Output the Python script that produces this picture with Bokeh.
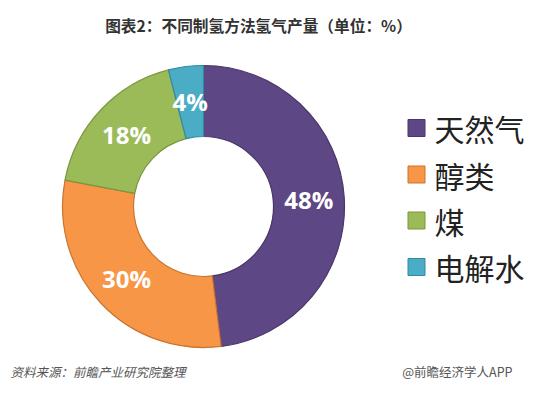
import math
from bokeh.plotting import figure
from bokeh.models import Range1d, ColumnDataSource
from bokeh.core.properties import value
from bokeh.embed import file_html
from bokeh.resources import INLINE

# data
categories = ["天然气", "醇类", "煤", "电解水"]
shares = [48, 30, 18, 4]
colors = ["#5E4785", "#F79646", "#9BBB59", "#4BACC6"]
edge_colors = ["#4A3668", "#C8752F", "#7A9640", "#2F8AA3"]
title_text = "图表2：不同制氢方法氢气产量（单位：%）"
source_text = "资料来源：前瞻产业研究院整理"
credit_text = "@前瞻经济学人APP"

W, H = 534, 382
p = figure(width=W, height=H, output_backend="svg", toolbar_location=None,
           x_range=Range1d(0, W), y_range=Range1d(0, H),
           min_border=0, outline_line_color=None)
p.axis.visible = False
p.grid.visible = False
p.background_fill_color = "white"
p.border_fill_color = "white"

def Y(y):  # reference y (top-down) -> data y
    return H - y

cx, cy = 203, Y(206)
r_out, r_in = 141, 70

total = sum(shares)
starts, ends, mids = [], [], []
cum = 0.0
for s in shares:
    f0 = cum / total
    cum += s
    f1 = cum / total
    starts.append(math.pi / 2 - f0 * 2 * math.pi)
    ends.append(math.pi / 2 - f1 * 2 * math.pi)
    mids.append(math.pi / 2 - (f0 + f1) / 2 * 2 * math.pi)

src = ColumnDataSource(dict(start=starts, end=ends, color=colors, edge=edge_colors))
p.annular_wedge(x=cx, y=cy, inner_radius=r_in, outer_radius=r_out,
                start_angle="start", end_angle="end", direction="clock",
                fill_color="color", line_color="edge", line_width=1.2, source=src)

r_mid = (r_in + r_out) / 2
lab = ColumnDataSource(dict(
    x=[cx + r_mid * math.cos(a) for a in mids],
    y=[cy + r_mid * math.sin(a) for a in mids],
    t=[f"{s}%" for s in shares]))
p.text(x="x", y="y", text="t", source=lab, text_color="white",
       text_font=value("Open Sans"), text_font_style="bold",
       text_font_size="24px", text_align="center", text_baseline="middle")

# legend
leg_y = [Y(127.5), Y(174), Y(220), Y(266.5)]
leg = ColumnDataSource(dict(x=[416] * 4, y=leg_y, color=colors, edge=edge_colors,
                            tx=[434] * 4, t=categories))
p.rect(x="x", y="y", width=17, height=17, fill_color="color", line_color="edge",
       line_width=1, source=leg)
p.text(x="tx", y="y", text="t", source=leg, text_color="#222222",
       text_font=value("Noto Sans CJK SC"), text_font_size="30px",
       text_baseline="middle", text_align="left")

# title and footer
p.text(x=[258], y=[Y(25)], text=[title_text], text_color="#333333",
       text_font=value("Noto Sans CJK SC"), text_font_style="bold",
       text_font_size="15.7px", text_align="center", text_baseline="middle")
p.text(x=[10], y=[Y(371)], text=[source_text], text_color="#555555",
       text_font=value("Noto Sans CJK SC"), text_font_style="italic",
       text_font_size="12.5px", text_align="left", text_baseline="middle")
p.text(x=[512], y=[Y(371)], text=[credit_text], text_color="#555555",
       text_font=value("Noto Sans CJK SC"),
       text_font_size="12.5px", text_align="right", text_baseline="middle")

open("out.html", "w").write(file_html(p, INLINE))
